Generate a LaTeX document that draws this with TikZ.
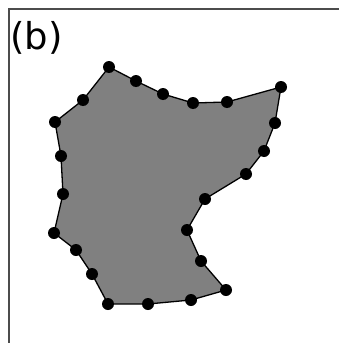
\documentclass[tikz,border=0pt]{standalone}
\usepackage{fontspec}
\setmainfont{DejaVu Sans}
\begin{document}
\begin{tikzpicture}[x=1pt,y=-1pt,
  frame/.style={draw=black!70,line width=2pt},
  poly/.style={draw=black,fill=black!50,line width=1.3pt,line join=round},
  vtx/.style={circle,fill=black,inner sep=0pt,minimum size=12pt}]
\useasboundingbox (0,0) rectangle (339,343);
\begin{scope}
\clip (0,0) rectangle (339,343);
\draw[frame] (9,9) rectangle (360,360);
\end{scope}
\node[anchor=base west,inner sep=0pt,font=\fontsize{37}{42}\selectfont] (lab) at (10,49) {(b)};
\foreach \n/\x/\y in {1/109/67,2/136/81,3/163/94,4/193/103,5/227/102,6/281/87,7/275/123,8/264/151,9/246/174,10/205/199,11/187/230,12/201/261,13/226/290,14/191/300,15/148/304,16/108/304,17/92/274,18/76/250,19/54/233,20/63/194,21/61/156,22/55/122,23/83/100}
  \coordinate (p\n) at (\x,\y);
\draw[poly] (p1)--(p2)--(p3)--(p4)--(p5)--(p6)--(p7)--(p8)--(p9)--(p10)--(p11)--(p12)--(p13)--(p14)--(p15)--(p16)--(p17)--(p18)--(p19)--(p20)--(p21)--(p22)--(p23)--cycle;
\foreach \n in {1,...,23} \node[vtx] (v\n) at (p\n) {};
\end{tikzpicture}
\end{document}
